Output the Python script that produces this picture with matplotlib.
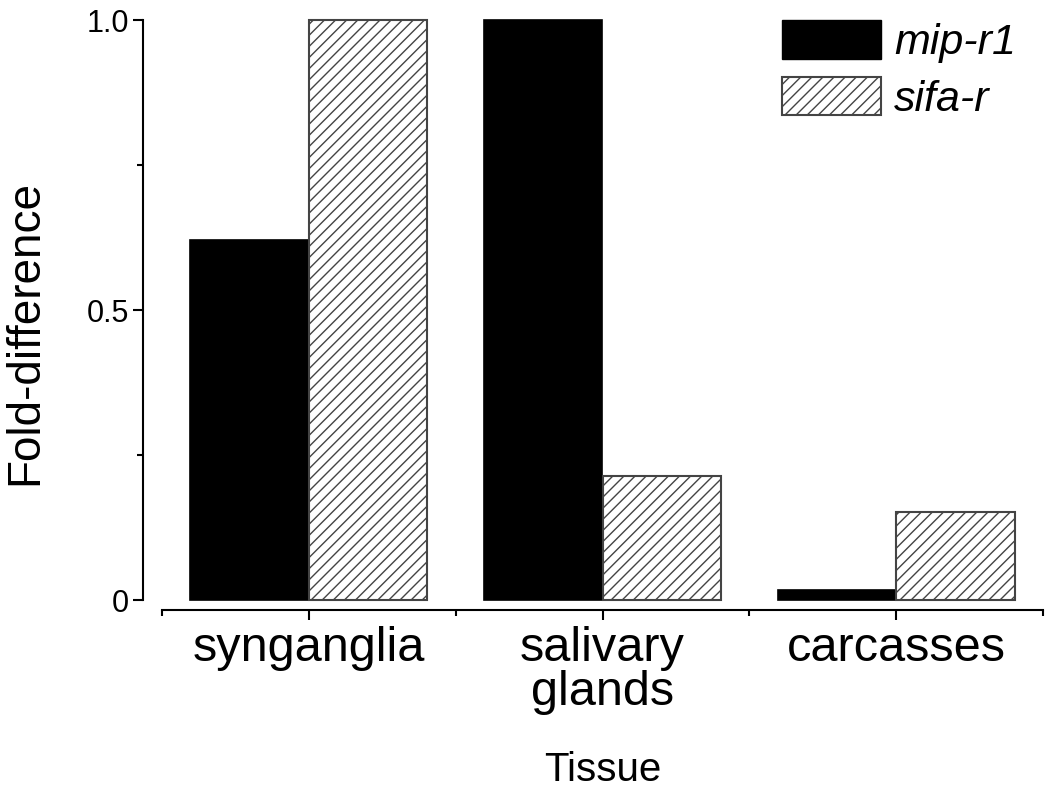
import numpy as np
import matplotlib
matplotlib.use("Agg")
import matplotlib.pyplot as plt
from matplotlib.patches import Patch
from matplotlib.ticker import MultipleLocator, FixedLocator

# données
tissues = ["synganglia", "salivary\nglands", "carcasses"]
mip_r1 = [0.62, 1.0, 0.017]
sifa_r = [1.0, 0.213, 0.152]

plt.rcParams["font.family"] = ["Liberation Sans", "DejaVu Sans"]
plt.rcParams["hatch.linewidth"] = 1.0

fig = plt.figure(figsize=(10.5, 7.88), dpi=100)
ax = fig.add_axes([162 / 1050, 1 - 600 / 788, 881 / 1050, 580 / 788])

x = np.arange(len(tissues))
w = 0.403
ax.bar(x - w / 2, mip_r1, w, color="black", edgecolor="black", linewidth=1.2, clip_on=False)
ax.bar(x + w / 2, sifa_r, w, color="white", edgecolor="#444444", hatch="///",
       linewidth=1.5, clip_on=False)

ax.set_xlim(-0.5, 2.5)
ax.set_ylim(0, 1.0)

for s in ["top", "right"]:
    ax.spines[s].set_visible(False)
ax.spines["left"].set_position(("outward", 14))
ax.spines["bottom"].set_position(("outward", 7))
ax.spines["left"].set_bounds(0, 1.0)
ax.spines["bottom"].set_bounds(-0.5, 2.5)
for s in ["left", "bottom"]:
    ax.spines[s].set_linewidth(1.5)

ax.set_yticks([0, 0.5, 1.0])
ax.set_yticklabels(["0", "0.5", "1.0"])
ax.yaxis.set_minor_locator(MultipleLocator(0.25))
ax.set_xticks(x)
ax.set_xticklabels(tissues, linespacing=0.95)
ax.xaxis.set_minor_locator(FixedLocator([-0.5, 0.5, 1.5, 2.5]))

ax.tick_params(axis="y", which="major", length=7, width=1.5, labelsize=22, pad=3)
ax.tick_params(axis="y", which="minor", length=4, width=1.5)
ax.tick_params(axis="x", which="major", length=7, width=1.5, labelsize=35, pad=5)
ax.tick_params(axis="x", which="minor", length=4, width=1.5)

ax.set_ylabel("Fold-difference", fontsize=33)
ax.yaxis.set_label_coords(-0.13, 0.462)
ax.set_xlabel("Tissue", fontsize=29, labelpad=26)

handles = [Patch(facecolor="black", edgecolor="black"),
           Patch(facecolor="white", edgecolor="#444444", hatch="///", linewidth=1.5)]
ax.legend(handles, ["mip-r1", "sifa-r"], prop={"size": 31, "style": "italic"},
          loc="upper left", bbox_to_anchor=(782 / 1050, 1 - 20 / 788),
          bbox_transform=fig.transFigure, frameon=False, borderpad=0,
          borderaxespad=0, handlelength=2.3, handleheight=1.0,
          handletextpad=0.3, labelspacing=0.32)

fig.savefig("out.png", dpi=100)
